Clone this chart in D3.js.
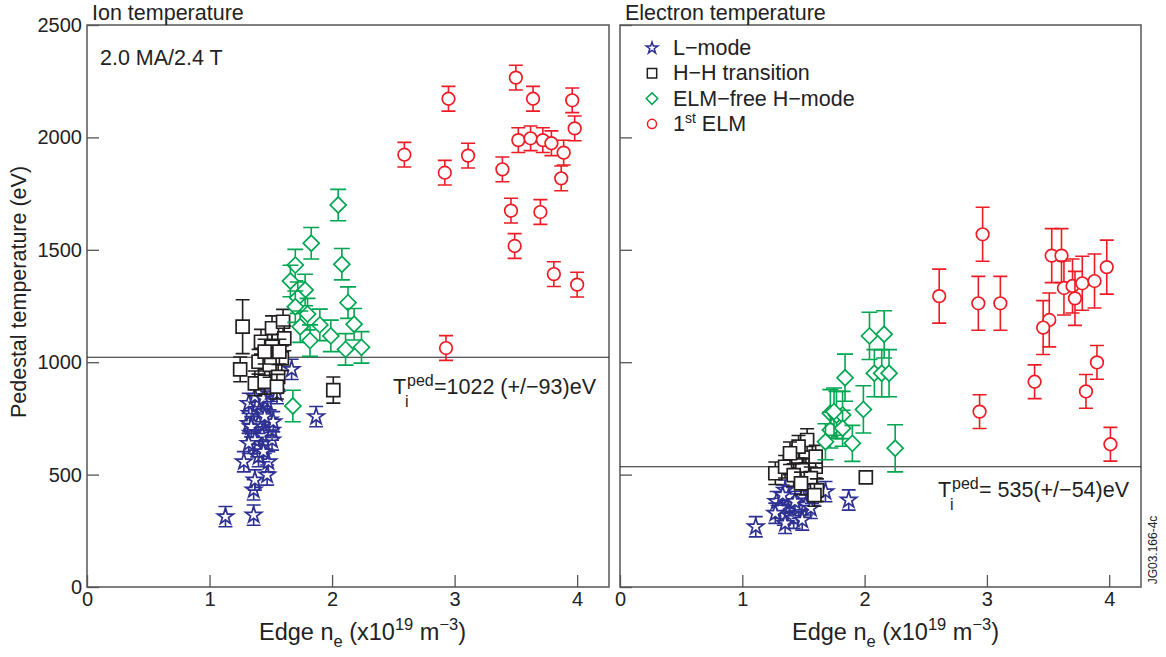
<!DOCTYPE html>
<html><head><meta charset="utf-8">
<script src="https://cdn.jsdelivr.net/npm/d3@7"></script>
<style>body{margin:0;background:#fff}svg{display:block;font-family:"Liberation Sans",Arial,Helvetica,sans-serif}</style>
</head><body><svg id="c" width="1166" height="657"></svg>
<script>
// ---------- data ----------
const xTicks = [0, 1, 2, 3, 4];
const yTicks = [0, 500, 1000, 1500, 2000, 2500];
const seriesNames = ["L\u2212mode", "H\u2212H transition", "ELM\u2212free H\u2212mode", "1st ELM"];
const panelTitles = ["Ion temperature", "Electron temperature"];
const pedMeans = [1022, 535];
const pedErrs = [93, 54];
// [edge ne (1e19 m^-3), temperature (eV), error (eV)]
const ionLmode = [[1.13,313,45],[1.36,320,45],[1.36,432,45],[1.37,476,45],[1.47,498,45],[1.28,557,45],[1.48,557,45],[1.40,580,45],[1.39,624,45],[1.45,639,45],[1.51,654,45],[1.34,684,45],[1.43,676,45],[1.51,698,45],[1.32,728,45],[1.40,728,45],[1.49,743,45],[1.33,772,45],[1.43,780,45],[1.52,735,45],[1.32,817,45],[1.39,810,45],[1.47,824,45],[1.37,847,45],[1.44,839,45],[1.34,713,45],[1.45,758,45],[1.37,654,45],[1.44,602,45],[1.32,639,45],[1.67,968,45],[1.87,758,45],[1.50,870,45],[1.55,860,45]];
const ionHH = [[1.27,1158,120],[1.25,968,55],[2.01,876,58],[1.42,1091,55],[1.51,1151,55],[1.60,1180,55],[1.61,1106,55],[1.40,1002,55],[1.51,1069,55],[1.59,1017,55],[1.37,906,55],[1.45,913,55],[1.49,988,55],[1.56,935,55],[1.55,891,55],[1.57,1047,55],[1.45,1047,55]];
const ionElmFree = [[2.05,1699,70],[1.83,1529,70],[1.70,1432,70],[2.08,1436,70],[1.66,1361,70],[1.78,1321,70],[1.72,1287,70],[2.13,1265,70],[1.70,1247,70],[1.80,1214,70],[1.74,1158,70],[2.18,1169,70],[1.90,1166,70],[1.99,1117,70],[1.82,1096,70],[2.11,1057,70],[2.24,1066,70],[1.68,805,70]];
const ionElm = [[3.50,2266,55],[2.95,2172,55],[3.64,2172,55],[3.96,2165,55],[3.98,2040,55],[3.52,1988,55],[3.62,1996,55],[3.72,1988,55],[3.79,1974,55],[3.89,1932,55],[2.59,1923,55],[3.11,1919,55],[2.92,1843,55],[3.39,1858,55],[3.87,1818,55],[3.46,1674,55],[3.70,1668,55],[3.49,1517,55],[3.81,1392,55],[4.00,1345,55],[2.93,1063,55]];
const elecLmode = [[1.11,268,45],[1.68,424,45],[1.87,387,45],[1.28,380,45],[1.35,431,45],[1.39,357,45],[1.34,320,45],[1.45,328,45],[1.49,402,45],[1.38,402,45],[1.31,350,45],[1.42,306,45],[1.46,350,45],[1.52,365,45],[1.35,283,45],[1.27,328,45],[1.43,380,45],[1.56,350,45],[1.33,409,45],[1.49,298,45],[1.57,417,45]];
const elecHH = [[2.01,488,0],[1.27,506,50],[1.39,550,50],[1.45,580,50],[1.52,602,50],[1.53,654,50],[1.60,535,50],[1.60,580,50],[1.49,520,50],[1.35,535,50],[1.42,498,50],[1.56,484,50],[1.61,431,50],[1.59,409,50],[1.48,461,50],[1.46,624,50],[1.39,595,50]];
const elecElmFree = [[2.04,1117,105],[2.16,1124,105],[2.08,951,105],[2.14,951,105],[2.20,951,105],[1.84,931,105],[1.99,790,105],[1.72,773,105],[1.77,765,105],[1.82,765,105],[1.72,698,80],[1.82,706,80],[1.68,646,80],[1.90,639,80],[2.25,617,105],[1.75,780,105]];
const elecElm = [[2.965,1569,120],[2.61,1294,120],[2.93,1262,120],[3.11,1262,120],[3.53,1474,120],[3.61,1474,120],[3.63,1330,120],[3.70,1339,120],[3.78,1351,120],[3.72,1284,120],[3.88,1361,120],[3.98,1423,120],[3.51,1188,120],[3.46,1154,120],[3.39,913,75],[2.94,780,75],[3.90,999,75],[3.81,870,75],[4.01,635,75]];

// ---------- styles ----------
const colors = ["#2e3192", "#231f20", "#00a651", "#ed1c24"];
const kinds = ["star", "square", "diamond", "circle"];
const svg = d3.select("#c");
const Y0 = 587, Y1 = 25;
const y = d3.scaleLinear().domain([0, 2500]).range([Y0, Y1]);

function markerPath(kind, s) {
  if (kind === "star") return d3.symbol(d3.symbolStar, 80 * s * s)();
  if (kind === "square") return d3.symbol(d3.symbolSquare, 169 * s * s)();
  if (kind === "diamond") return d3.symbol(d3.symbolSquare, 128 * s * s)();
  return d3.symbol(d3.symbolCircle, 125 * s * s)();
}

function drawPanel(px0, px1, sets, showYLabels, title, mean) {
  const x = d3.scaleLinear().domain([0, 4.26]).range([px0, px1]);
  const g = svg.append("g");
  const xa = g.append("g").attr("transform", `translate(0,${Y0})`)
    .call(d3.axisBottom(x).tickValues(xTicks).tickSizeInner(-12).tickSizeOuter(0).tickPadding(5).tickFormat(d3.format("d")));
  xa.selectAll("text").attr("font-size", 20).attr("fill", "#222").attr("font-family", "Liberation Sans, Arial, sans-serif");
  const ya = g.append("g").attr("transform", `translate(${px0},0)`)
    .call(d3.axisLeft(y).tickValues(yTicks).tickSizeInner(-12).tickSizeOuter(0).tickPadding(5).tickFormat(showYLabels ? d3.format("d") : () => ""));
  ya.selectAll("text").attr("font-size", 20).attr("fill", "#222").attr("font-family", "Liberation Sans, Arial, sans-serif");
  g.selectAll(".domain").remove();
  g.selectAll(".tick line").attr("stroke", "#555").attr("stroke-width", 1.3);
  g.append("rect").attr("x", px0).attr("y", Y1).attr("width", px1 - px0).attr("height", Y0 - Y1)
    .attr("fill", "none").attr("stroke", "#555").attr("stroke-width", 1.5);
  g.append("line").attr("x1", px0).attr("x2", px1).attr("y1", y(mean)).attr("y2", y(mean))
    .attr("stroke", "#222").attr("stroke-width", 1.1);
  g.append("text").attr("x", px0 + 5).attr("y", 20).attr("font-size", 21.5).attr("fill", "#222").text(title);
  const xt = g.append("text").attr("x", px0 + 172).attr("y", 640).attr("font-size", 23.5).attr("fill", "#222");
  xt.append("tspan").text("Edge n");
  xt.append("tspan").attr("font-size", 16.5).attr("dy", 7).text("e");
  xt.append("tspan").attr("dy", -7).text(" (x10");
  xt.append("tspan").attr("font-size", 16.5).attr("dy", -10).text("19");
  xt.append("tspan").attr("dy", 10).text(" m");
  xt.append("tspan").attr("font-size", 16.5).attr("dy", -10).text("\u22123");
  xt.append("tspan").attr("dy", 10).text(")");
  sets.forEach((data, si) => {
    const col = colors[si], kind = kinds[si];
    const pts = g.append("g").selectAll("g").data(data).join("g")
      .attr("transform", d => `translate(${x(d[0])},${y(d[1])})`);
    const cw = kind === "diamond" ? 8 : 7;
    pts.append("path").attr("fill", "none").attr("stroke", col).attr("stroke-width", 1.6)
      .attr("d", d => {
        const h = y(0) - y(d[2]);
        return `M0,${-h}V${h}M${-cw},${-h}H${cw}M${-cw},${h}H${cw}`;
      });
    pts.append("path").attr("d", markerPath(kind, 1))
      .attr("transform", kind === "diamond" ? "rotate(45)" : null)
      .attr("fill", "#fff").attr("stroke", col).attr("stroke-width", 1.7);
  });
  return g;
}

drawPanel(87, 609, [ionLmode, ionHH, ionElmFree, ionElm], true, panelTitles[0], pedMeans[0]);
drawPanel(620, 1141, [elecLmode, elecHH, elecElmFree, elecElm], false, panelTitles[1], pedMeans[1]);

svg.append("text").attr("transform", "translate(26,292) rotate(-90)").attr("text-anchor", "middle")
  .attr("font-size", 21.5).attr("fill", "#222").text("Pedestal temperature (eV)");
svg.append("text").attr("x", 100).attr("y", 65).attr("font-size", 21.5).attr("fill", "#222").text("2.0 MA/2.4 T");

function pedLabel(xT, yb, rest) {
  svg.append("text").attr("x", xT).attr("y", yb).attr("font-size", 21.5).attr("fill", "#222").text("T");
  svg.append("text").attr("x", xT + 12).attr("y", yb + 13).attr("font-size", 16).attr("fill", "#222").text("i");
  svg.append("text").attr("x", xT + 14).attr("y", yb - 8).attr("font-size", 16).attr("fill", "#222").text("ped");
  svg.append("text").attr("x", xT + 41).attr("y", yb).attr("font-size", 21.5).attr("fill", "#222").text(rest);
}
pedLabel(393, 394, `=${pedMeans[0]} (+/\u2212${pedErrs[0]})eV`);
pedLabel(938, 497, `= ${pedMeans[1]}(+/\u2212${pedErrs[1]})eV`);

const lg = svg.append("g");
seriesNames.forEach((name, i) => {
  const yy = 48 + i * 25.3;
  lg.append("path").attr("d", markerPath(kinds[i], 0.72))
    .attr("transform", `translate(652,${yy})` + (kinds[i] === "diamond" ? " rotate(45)" : ""))
    .attr("fill", "#fff").attr("stroke", colors[i]).attr("stroke-width", 1.5);
  const t = lg.append("text").attr("x", 673).attr("y", yy + 7).attr("font-size", 21.5).attr("fill", "#222");
  if (name.startsWith("1st")) {
    t.append("tspan").text("1");
    t.append("tspan").attr("font-size", 14).attr("dy", -8).text("st");
    t.append("tspan").attr("dy", 8).text(" ELM");
  } else t.text(name);
});

svg.append("text").attr("transform", "translate(1157,550) rotate(-90)").attr("text-anchor", "middle")
  .attr("font-size", 12).attr("fill", "#222").text("JG03.166-4c");
</script></body></html>
